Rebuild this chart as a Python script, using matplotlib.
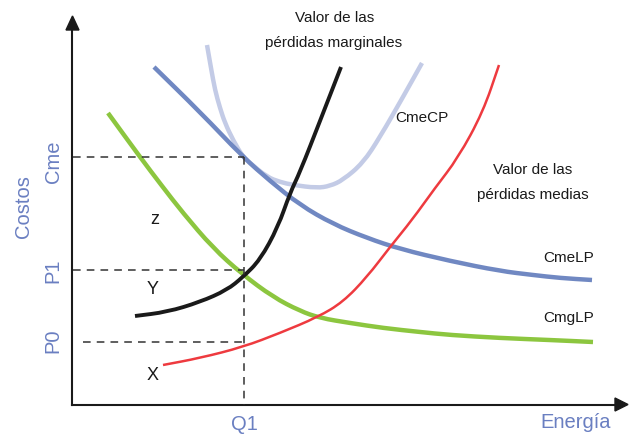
import matplotlib
matplotlib.use("Agg")
import matplotlib.pyplot as plt
from matplotlib.path import Path
import matplotlib.patches as patches

plt.rcParams['font.family'] = ['Liberation Sans', 'DejaVu Sans']

# curve points (pixel-like units, y grows downward)
cmg_x = [108, 140, 162, 183, 213, 242, 273, 300, 320, 350, 383, 420, 450, 500, 550, 593]
cmg_y = [113, 157, 186, 213, 248, 274, 297, 311, 318, 323, 328, 332, 335, 338, 340, 342]

cmelp_x = [154, 200, 243, 270, 300, 333, 367, 400, 450, 500, 533, 560, 592]
cmelp_y = [67, 112, 157, 181, 205, 224, 238, 249, 261, 271, 275, 278, 280]

cmecp_x = [207, 211, 215, 220, 225, 233, 243, 250, 267, 280, 293, 317, 330, 343, 363, 380, 403, 422]
cmecp_y = [45, 68, 90, 108, 123, 140, 157, 163, 177, 182, 185, 188, 186, 180, 163, 137, 97, 63]

marg_x = [135, 167, 200, 227, 243, 260, 278, 290, 300, 320, 341]
marg_y = [316, 312, 302, 290, 277, 260, 227, 193, 172, 121, 67]

media_x = [163, 200, 243, 280, 318, 343, 367, 390, 412, 435, 458, 483, 499]
media_y = [365, 358, 347, 333, 317, 302, 277, 247, 220, 188, 158, 112, 65]

# reference levels
y_cme, y_p1, y_p0 = 157, 270, 342
x_q1 = 244

axis_col = '#6a7fc1'
txt_col = '#1a1a1a'


def smooth_curve(ax, xs, ys, **kw):
    # quadratic bezier through segment midpoints, read points as controls
    pts = list(zip(xs, ys))
    verts = [pts[0]]
    codes = [Path.MOVETO]
    mid = lambda a, b: ((a[0] + b[0]) / 2, (a[1] + b[1]) / 2)
    verts.append(mid(pts[0], pts[1]))
    codes.append(Path.LINETO)
    for i in range(1, len(pts) - 1):
        verts += [pts[i], mid(pts[i], pts[i + 1])]
        codes += [Path.CURVE3, Path.CURVE3]
    verts.append(pts[-1])
    codes.append(Path.LINETO)
    p = patches.PathPatch(Path(verts, codes), fill=False, capstyle='butt',
                          joinstyle='round', **kw)
    ax.add_patch(p)


fig = plt.figure(figsize=(6.37, 4.34), dpi=100)
ax = fig.add_axes([0, 0, 1, 1])
ax.set_xlim(0, 637)
ax.set_ylim(434, 0)
ax.axis('off')

# axes with arrows
ax.plot([72, 72], [405, 28], color='#1a1a1a', lw=1.5)
ax.plot([72, 617], [405, 405], color='#1a1a1a', lw=1.5)
ax.fill([66, 79, 72.5], [30, 30, 16], color='#1a1a1a')
ax.fill([615, 615, 628], [398, 411, 404.5], color='#1a1a1a')

# dashed guides
dash = dict(color='#333333', lw=1.1, ls=(0, (5, 4)))
ax.plot([73, x_q1], [y_cme, y_cme], **dash)
ax.plot([73, x_q1], [y_p1, y_p1], **dash)
ax.plot([83, x_q1], [y_p0, y_p0], **dash)
ax.plot([x_q1, x_q1], [y_cme, 405], **dash)

# curves
smooth_curve(ax, cmecp_x, cmecp_y, edgecolor='#c3cbe6', lw=3.2)
smooth_curve(ax, cmelp_x, cmelp_y, edgecolor='#7088c2', lw=3.2)
smooth_curve(ax, cmg_x, cmg_y, edgecolor='#8cc63f', lw=3.2)
smooth_curve(ax, media_x, media_y, edgecolor='#ee3a3f', lw=1.8)
smooth_curve(ax, marg_x, marg_y, edgecolor='#1a1a1a', lw=2.8)

# text labels
fs = 11
ax.text(335, 18, 'Valor de las', fontsize=fs, color=txt_col, ha='center', va='center')
ax.text(334, 43, 'pérdidas marginales', fontsize=fs, color=txt_col, ha='center', va='center')
ax.text(422, 118, 'CmeCP', fontsize=fs, color=txt_col, ha='center', va='center')
ax.text(533, 170, 'Valor de las', fontsize=fs, color=txt_col, ha='center', va='center')
ax.text(533, 195, 'pérdidas medias', fontsize=fs, color=txt_col, ha='center', va='center')
ax.text(569, 258, 'CmeLP', fontsize=fs, color=txt_col, ha='center', va='center')
ax.text(569, 318, 'CmgLP', fontsize=fs, color=txt_col, ha='center', va='center')
ax.text(155, 220, 'z', fontsize=13, color=txt_col, ha='center', va='center')
ax.text(153, 290, 'Y', fontsize=13, color=txt_col, ha='center', va='center')
ax.text(153, 376, 'X', fontsize=13, color=txt_col, ha='center', va='center')

afs = 14.5
ax.text(24, 207, 'Costos', fontsize=afs, color=axis_col, ha='center', va='center', rotation=90)
ax.text(53, 162, 'Cme', fontsize=afs, color=axis_col, ha='center', va='center', rotation=90)
ax.text(53, 271, 'P1', fontsize=afs, color=axis_col, ha='center', va='center', rotation=90)
ax.text(53, 341, 'P0', fontsize=afs, color=axis_col, ha='center', va='center', rotation=90)
ax.text(x_q1, 425, 'Q1', fontsize=afs, color=axis_col, ha='center', va='center')
ax.text(576, 423, 'Energía', fontsize=afs, color=axis_col, ha='center', va='center')

fig.savefig('out.png', dpi=100)
